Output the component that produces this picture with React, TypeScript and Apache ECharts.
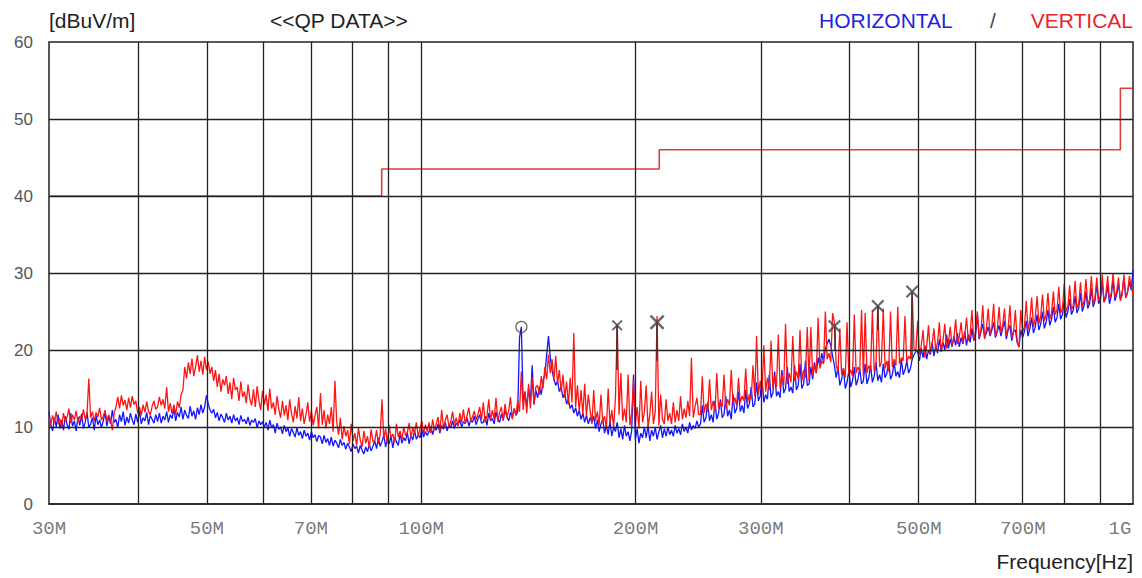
import { useEffect, useRef } from "react";
import * as echarts from "echarts";

// Receiver sweep: 600 points, log-spaced from 30 MHz to 1 GHz
const F_START = 30;
const F_STOP = 1000;

// HORIZONTAL polarisation (blue), QP data, dBuV/m
const BLUE_H: number[] = [
  12.0, 10.2, 9.5, 11.2, 10.0, 11.6, 9.8, 10.9, 9.6, 11.4, 10.3, 9.7, 11.8, 10.1, 10.8, 9.5, 11.3, 10.2, 11.7, 9.8, 10.6, 11.9, 9.9, 10.4, 11.2, 9.6, 11.5, 10.3, 10.9, 9.9,
  10.8, 11.9, 10.1, 11.4, 10.4, 12.2, 10.6, 11.0, 9.9, 11.6, 10.7, 12.0, 10.2, 11.3, 10.5, 11.8, 10.9, 10.3, 11.7, 10.6, 12.1, 10.4, 11.2, 10.8, 11.9, 10.3, 11.5, 11.0, 10.5, 11.6,
  10.7, 11.8, 10.5, 11.4, 10.9, 12.0, 10.6, 11.6, 11.1, 12.4, 10.8, 11.9, 11.3, 12.6, 11.0, 12.2, 11.5, 11.1, 12.7, 11.4, 12.1, 11.0, 12.5, 11.6, 12.9, 11.8, 12.6, 14.1, 13.0, 12.2,
  11.8, 12.3, 11.2, 11.9, 10.8, 11.7, 11.2, 10.6, 11.8, 10.9, 11.4, 10.5, 11.6, 10.8, 11.2, 10.3, 11.5, 10.7, 11.0, 10.4, 11.3, 10.2, 10.9, 10.6, 11.1, 9.9, 10.8, 10.3, 10.7, 10.0,
  10.6, 9.6, 10.9, 9.9, 10.3, 9.2, 10.5, 9.7, 10.0, 9.1, 10.2, 9.4, 9.9, 8.8, 9.8, 9.3, 8.7, 9.9, 8.9, 9.4, 8.5, 9.6, 8.8, 9.2, 8.3, 9.4, 8.6, 9.0, 8.1, 8.9,
  8.7, 7.8, 8.9, 8.0, 8.5, 7.6, 8.7, 7.5, 8.3, 7.9, 7.3, 8.4, 7.6, 8.0, 7.1, 7.9, 7.4, 6.8, 7.8, 7.2, 7.5, 6.6, 7.6, 7.0, 6.5, 7.4, 6.8, 7.7, 6.9, 7.5,
  8.2, 7.2, 8.6, 7.5, 8.1, 9.0, 7.4, 8.5, 7.8, 8.8, 7.3, 8.7, 8.1, 7.6, 9.1, 7.9, 8.6, 8.2, 9.3, 7.8, 8.9, 8.3, 9.5, 8.4, 9.0, 8.6, 9.7, 8.7, 9.4, 8.9,
  9.4, 10.1, 9.0, 9.9, 9.6, 10.4, 9.2, 10.2, 9.7, 10.6, 9.5, 10.3, 9.9, 10.8, 9.8, 10.5, 10.2, 11.0, 10.0, 10.7, 10.4, 11.2, 10.1, 10.9, 10.6, 11.4, 10.3, 11.0, 11.6, 10.5,
  10.6, 11.4, 10.2, 11.8, 10.8, 11.1, 10.4, 12.0, 11.0, 10.6, 11.7, 10.9, 12.2, 11.3, 10.8, 11.9, 11.2, 12.4, 11.5, 12.0, 21.6, 23.0, 13.4, 14.6, 12.6, 15.0, 13.2, 18.0, 12.9, 14.8,
  13.8, 15.2, 14.2, 16.0, 16.8, 19.4, 21.8, 19.0, 17.4, 16.2, 15.4, 16.0, 14.6, 15.2, 13.8, 14.4, 13.0, 13.6, 12.4, 12.9, 11.8, 12.5, 11.4, 12.2, 11.0, 11.8, 10.6, 11.5, 10.4, 11.2,
  10.6, 11.4, 9.8, 10.9, 9.4, 10.4, 11.0, 9.2, 10.2, 9.0, 10.8, 8.8, 10.0, 9.4, 10.6, 8.6, 9.8, 8.4, 10.2, 8.8, 9.4, 8.2, 9.6, 16.8, 8.4, 9.8, 7.9, 9.2, 8.6, 10.0,
  8.6, 10.2, 8.2, 9.6, 8.8, 10.0, 8.4, 9.4, 10.2, 8.6, 9.8, 8.8, 10.0, 9.0, 9.6, 8.8, 10.2, 9.2, 9.8, 9.0, 10.4, 9.4, 10.0, 9.2, 10.6, 9.6, 10.2, 9.8, 10.8, 10.0,
  10.4, 12.8, 10.6, 11.2, 13.2, 10.8, 11.6, 10.6, 13.4, 11.0, 11.8, 13.6, 11.2, 11.6, 14.0, 11.4, 12.2, 11.0, 14.2, 11.8, 12.4, 14.6, 12.0, 12.8, 11.8, 14.8, 12.4, 13.0, 15.2, 12.6,
  13.0, 15.8, 13.4, 14.0, 16.4, 13.2, 14.2, 13.6, 16.8, 13.8, 14.4, 17.2, 14.0, 14.6, 13.8, 17.4, 14.4, 15.0, 17.8, 14.6, 15.2, 14.4, 18.0, 14.8, 15.4, 18.2, 15.0, 15.6, 18.6, 15.4,
  15.6, 17.8, 16.2, 18.4, 17.0, 19.0, 17.8, 19.6, 18.4, 20.2, 20.8, 21.4, 20.6, 19.2, 18.0, 16.4, 17.8, 15.4, 16.2, 17.6, 15.0, 15.8, 17.4, 15.2, 16.0, 17.8, 15.4, 16.2, 17.6, 15.6,
  16.0, 18.2, 15.6, 16.4, 18.0, 15.8, 16.6, 18.4, 16.0, 16.8, 15.8, 18.2, 16.4, 17.0, 18.6, 16.2, 16.8, 18.4, 16.6, 17.2, 16.4, 18.8, 16.8, 17.4, 18.6, 17.0, 17.6, 18.8, 19.4, 19.8,
  19.8, 18.6, 20.2, 19.0, 20.6, 18.8, 20.0, 19.4, 21.0, 19.2, 20.6, 19.6, 21.4, 19.8, 21.0, 20.0, 22.0, 20.2, 21.4, 20.4, 21.8, 20.6, 22.2, 20.4, 21.6, 20.8, 22.4, 20.6, 22.0, 21.0,
  22.8, 21.2, 22.0, 24.6, 21.4, 22.4, 23.4, 21.6, 22.2, 23.0, 21.8, 22.6, 23.6, 21.6, 22.4, 23.2, 21.8, 22.8, 23.8, 21.4, 22.6, 23.2, 21.2, 22.4, 22.6, 21.0, 20.4, 22.6, 21.6, 22.4,
  23.8, 21.8, 22.8, 24.2, 22.2, 23.0, 24.6, 22.6, 23.4, 25.0, 22.8, 23.6, 25.2, 23.2, 24.0, 25.6, 23.6, 24.2, 26.0, 24.0, 24.6, 26.4, 24.2, 25.0, 26.6, 24.6, 25.2, 27.0, 24.8, 25.4,
  27.4, 25.0, 25.8, 27.6, 25.4, 26.0, 28.0, 25.6, 26.4, 28.6, 26.0, 26.6, 28.8, 26.2, 26.8, 28.4, 26.0, 27.0, 29.2, 26.4, 27.2, 28.6, 26.6, 27.4, 29.4, 26.8, 27.6, 28.8, 27.8, 30.4,
];

// VERTICAL polarisation (red), QP data, dBuV/m
const RED_V: number[] = [
  11.2, 10.3, 11.5, 10.6, 12.0, 10.4, 11.1, 10.0, 11.8, 10.7, 11.3, 12.4, 10.5, 11.6, 10.9, 12.1, 10.6, 11.4, 10.8, 12.3, 11.0, 11.7, 16.3, 11.2, 12.0, 10.7, 11.9, 11.3, 12.5, 10.9,
  11.4, 12.2, 10.8, 11.6, 10.9, 9.6, 11.8, 12.6, 13.9, 12.4, 14.1, 12.8, 13.5, 12.2, 13.8, 12.5, 14.0, 12.9, 13.4, 11.8, 12.6, 11.5, 12.9, 11.9, 13.3, 12.0, 11.6, 12.7, 13.4, 12.3,
  12.6, 13.9, 12.8, 13.6, 12.4, 15.2, 12.0, 13.1, 11.7, 12.9, 11.6, 13.3, 12.5, 14.2, 14.8, 17.8, 16.3, 18.4, 16.9, 18.9, 16.6, 17.8, 19.3, 17.2, 18.6, 16.8, 19.1, 17.4, 18.5, 16.9,
  17.8, 16.0, 17.4, 15.2, 16.9, 14.6, 16.2, 15.4, 16.6, 14.3, 15.8, 13.6, 16.4, 14.8, 15.2, 13.4, 15.9, 13.9, 14.6, 13.1, 15.5, 13.6, 12.8, 14.9, 12.6, 15.3, 13.4, 12.2, 14.7, 12.9,
  14.2, 12.1, 15.0, 12.4, 13.2, 11.6, 14.0, 12.3, 11.2, 13.4, 11.5, 12.8, 10.9, 13.6, 11.8, 10.6, 12.7, 11.1, 13.9, 10.8, 12.4, 10.4, 11.6, 13.2, 10.7, 12.1, 10.2, 11.5, 12.6, 9.8,
  14.4, 10.3, 12.2, 9.8, 11.6, 10.4, 12.6, 9.4, 16.0, 10.6, 9.0, 11.2, 8.4, 10.1, 8.8, 9.6, 7.8, 10.4, 8.2, 9.2, 7.6, 9.9, 8.3, 7.4, 9.5, 7.9, 8.8, 7.3, 9.7, 8.1,
  8.2, 9.6, 7.8, 9.0, 13.6, 8.4, 9.8, 7.9, 10.2, 8.6, 9.1, 8.0, 10.4, 8.7, 9.5, 8.3, 10.0, 8.9, 9.3, 10.5, 8.6, 9.9, 9.2, 10.6, 8.8, 9.7, 10.8, 9.1, 10.3, 9.4,
  10.6, 9.2, 11.0, 9.6, 10.4, 11.3, 9.4, 12.2, 9.8, 10.9, 11.6, 10.0, 10.7, 12.0, 10.3, 11.2, 10.1, 11.8, 10.6, 12.3, 10.4, 11.5, 12.5, 10.8, 11.3, 12.1, 10.9, 11.6, 12.6, 11.0,
  13.2, 10.6, 11.4, 13.6, 10.9, 12.2, 11.0, 13.8, 10.7, 11.9, 12.6, 10.8, 13.0, 11.3, 12.1, 13.9, 11.0, 12.4, 11.6, 13.4, 12.0, 17.2, 12.2, 14.6, 11.8, 15.6, 12.4, 16.4, 13.0, 15.2,
  15.4, 14.2, 16.6, 15.0, 17.8, 16.2, 19.4, 17.0, 18.8, 16.0, 19.2, 15.6, 17.4, 14.6, 16.8, 13.8, 15.9, 12.9, 16.4, 13.2, 22.2, 12.6, 15.4, 12.0, 14.8, 11.6, 15.6, 11.4, 14.2, 12.2,
  10.4, 14.8, 10.8, 12.0, 10.2, 14.2, 10.6, 11.4, 9.8, 15.0, 10.4, 12.2, 10.0, 13.8, 23.4, 11.6, 17.0, 10.8, 12.4, 10.6, 16.8, 10.2, 11.8, 16.2, 10.4, 12.6, 9.8, 16.0, 10.6, 12.0,
  15.4, 10.0, 11.6, 14.6, 10.4, 12.0, 24.4, 10.2, 14.2, 11.0, 10.4, 13.6, 10.8, 11.8, 10.4, 13.2, 10.6, 12.2, 10.8, 14.0, 11.0, 12.4, 11.2, 13.4, 11.4, 19.0, 11.2, 12.6, 13.8, 11.6,
  11.6, 16.6, 11.8, 13.0, 12.0, 16.2, 12.2, 13.4, 12.0, 17.0, 12.4, 13.2, 12.6, 16.8, 12.4, 13.6, 12.8, 17.4, 13.0, 13.8, 12.8, 16.4, 13.2, 14.0, 13.4, 17.6, 13.2, 14.2, 13.6, 18.0,
  14.0, 21.8, 14.2, 16.0, 14.4, 20.6, 14.6, 16.4, 14.8, 21.2, 15.0, 16.6, 15.2, 22.0, 15.0, 16.8, 15.4, 23.4, 15.6, 17.0, 15.8, 21.8, 16.0, 17.2, 16.2, 22.6, 16.0, 17.4, 16.4, 23.0,
  16.0, 23.0, 16.6, 18.0, 17.0, 24.2, 17.6, 18.6, 18.2, 25.0, 18.8, 19.6, 18.4, 24.8, 23.6, 18.0, 17.2, 22.8, 16.8, 17.6, 16.4, 23.6, 16.8, 17.4, 16.6, 24.6, 17.0, 17.8, 17.2, 25.2,
  16.6, 24.8, 17.0, 18.0, 17.4, 25.2, 17.2, 18.2, 25.8, 17.8, 18.4, 25.4, 17.6, 18.6, 17.2, 25.0, 17.8, 18.8, 18.0, 25.6, 18.2, 19.0, 18.6, 24.4, 18.4, 19.2, 18.8, 27.4, 20.2, 19.8,
  23.8, 19.4, 20.6, 22.6, 19.0, 20.4, 23.2, 19.6, 20.8, 22.8, 20.0, 21.0, 23.6, 19.8, 21.2, 23.4, 20.2, 21.0, 23.0, 20.6, 21.4, 24.0, 20.8, 21.6, 23.6, 21.0, 21.8, 24.2, 21.2, 22.0,
  25.2, 21.2, 22.4, 25.0, 21.6, 22.6, 25.8, 21.4, 22.8, 25.4, 22.0, 23.0, 26.0, 21.8, 22.6, 25.6, 22.2, 23.2, 25.4, 21.8, 22.8, 25.8, 21.6, 22.4, 25.2, 21.0, 20.4, 25.2, 22.4, 23.0,
  26.4, 22.6, 23.8, 26.8, 23.0, 24.2, 27.0, 23.4, 24.4, 27.2, 23.8, 24.6, 27.4, 24.0, 24.8, 27.6, 24.6, 25.2, 28.2, 24.8, 25.4, 28.6, 25.0, 25.6, 28.4, 25.2, 25.8, 29.0, 25.4, 26.0,
  28.8, 25.6, 26.4, 29.2, 25.8, 26.6, 29.6, 26.0, 26.8, 29.4, 26.4, 27.0, 29.8, 26.2, 27.2, 29.6, 26.6, 27.4, 30.0, 26.8, 27.6, 29.4, 26.4, 27.2, 29.8, 26.8, 27.4, 29.6, 28.2, 27.2,
];

// Limit line (step)
const LIMIT_FREQ = [30, 88, 88, 216, 216, 960, 960, 1000];
const LIMIT_LEVEL = [40, 40, 43.5, 43.5, 46, 46, 54, 54];

// Peak markers
const MARKER_FREQ = [138.3, 188.5, 214.5, 380.7, 438.0, 489.5];
const MARKER_LEVEL = [23.0, 23.2, 23.6, 23.1, 25.7, 27.6];
const MARKER_KIND = ["o", "x", "x", "x", "x", "x"];
const MARKER_SIZE = [11, 11, 15, 13, 13, 13];
const STEM_BASE = [null, 17.4, 18.6, 20.0, 22.6, 18.8];

// Grid and tick labels
const GRID_FREQ = [40, 50, 60, 70, 80, 90, 100, 200, 300, 400, 500, 600, 700, 800, 900];
const GRID_LEVEL = [10, 20, 30, 40, 50];
const TICK_FREQ = [30, 50, 70, 100, 200, 300, 500, 700, 1000];
const TICK_LABELS = ["30M", "50M", "70M", "100M", "200M", "300M", "500M", "700M", "1G"];

const X_PATH =
  "path://M0,1.2L1.2,0L5,3.8L8.8,0L10,1.2L6.2,5L10,8.8L8.8,10L5,6.2L1.2,10L0,8.8L3.8,5Z";

function sweep(values: number[]): number[][] {
  const n = values.length;
  return values.map((v, i) => [F_START * Math.pow(F_STOP / F_START, i / (n - 1)), v]);
}

const SANS = '"Liberation Sans", Arial, sans-serif';
const MONO = '"Courier New", "Liberation Mono", monospace';

export default function App() {
  const ref = useRef<HTMLDivElement>(null);

  useEffect(() => {
    if (!ref.current) return;
    const chart = echarts.init(ref.current, null, { renderer: "svg" });

    const option: any = {
      animation: false,
      backgroundColor: "#ffffff",
      textStyle: { fontFamily: SANS },
      grid: {
        left: 49,
        right: 9,
        top: 42,
        bottom: 74,
        show: true,
        borderColor: "#222222",
        borderWidth: 1.5,
      },
      xAxis: {
        type: "log",
        logBase: 10,
        min: F_START,
        max: F_STOP,
        axisLine: { show: true, lineStyle: { color: "#222222", width: 1.5 } },
        axisTick: { show: false },
        axisLabel: { show: false },
        splitLine: { show: false },
        minorSplitLine: { show: false },
      },
      yAxis: {
        type: "value",
        min: 0,
        max: 60,
        interval: 10,
        axisLine: { show: false },
        axisTick: { show: false },
        splitLine: { show: false },
        axisLabel: { color: "#555555", fontSize: 17, fontFamily: SANS, margin: 16 },
      },
      graphic: [
        { type: "text", x: 49, y: 20, style: { text: "[dBuV/m]", fontSize: 21, fontFamily: SANS, fill: "#222222", align: "left", verticalAlign: "middle" } },
        { type: "text", x: 270, y: 20, style: { text: "<<QP DATA>>", fontSize: 21, fontFamily: SANS, fill: "#222222", align: "left", verticalAlign: "middle" } },
        { type: "text", x: 819, y: 20, style: { text: "HORIZONTAL", fontSize: 21, fontFamily: SANS, fill: "#2424d8", align: "left", verticalAlign: "middle" } },
        { type: "text", x: 993, y: 20, style: { text: "/", fontSize: 21, fontFamily: SANS, fill: "#444444", align: "center", verticalAlign: "middle" } },
        { type: "text", x: 1133, y: 20, style: { text: "VERTICAL", fontSize: 21, fontFamily: SANS, fill: "#e5262b", align: "right", verticalAlign: "middle" } },
        { type: "text", x: 1133, y: 561, style: { text: "Frequency[Hz]", fontSize: 21, fontFamily: SANS, fill: "#222222", align: "right", verticalAlign: "middle" } },
      ],
      series: [
        {
          name: "HORIZONTAL",
          type: "line",
          data: sweep(BLUE_H),
          symbol: "none",
          showSymbol: false,
          lineStyle: { color: "#1414ff", width: 1.3 },
          z: 2,
          silent: true,
        },
        {
          name: "VERTICAL",
          type: "line",
          data: sweep(RED_V),
          symbol: "none",
          showSymbol: false,
          lineStyle: { color: "#ff1414", width: 1.3 },
          z: 3,
          silent: true,
        },
        {
          name: "Limit",
          type: "line",
          data: LIMIT_FREQ.map((f, i) => [f, LIMIT_LEVEL[i]]),
          symbol: "none",
          showSymbol: false,
          lineStyle: { color: "#e03c3c", width: 1.6 },
          z: 4,
          silent: true,
        },
        {
          name: "grid",
          type: "line",
          data: [[F_START, 0]],
          symbol: "none",
          lineStyle: { opacity: 0 },
          z: 5,
          silent: true,
          markLine: {
            silent: true,
            symbol: ["none", "none"],
            label: { show: false },
            lineStyle: { color: "#222222", width: 1.3, type: "solid" },
            data: [
              ...GRID_FREQ.map((f) => ({ xAxis: f })),
              ...GRID_LEVEL.map((v) => ({ yAxis: v })),
            ],
          },
        },
        {
          name: "markers",
          type: "scatter",
          z: 6,
          silent: true,
          data: MARKER_FREQ.map((f, i) =>
            MARKER_KIND[i] === "o"
              ? {
                  value: [f, MARKER_LEVEL[i]],
                  symbol: "circle",
                  symbolSize: MARKER_SIZE[i],
                  itemStyle: { color: "rgba(0,0,0,0)", borderColor: "#444444", borderWidth: 1.2 },
                }
              : {
                  value: [f, MARKER_LEVEL[i]],
                  symbol: X_PATH,
                  symbolSize: MARKER_SIZE[i],
                  itemStyle: { color: "#444444" },
                }
          ),
          markLine: {
            silent: true,
            symbol: ["none", "none"],
            label: { show: false },
            lineStyle: { color: "#333333", width: 1.5, type: "solid" },
            data: MARKER_FREQ.map((f, i) => ({ f, i }))
              .filter((d) => STEM_BASE[d.i] !== null)
              .map((d) => [
                { coord: [d.f, STEM_BASE[d.i]] },
                { coord: [d.f, MARKER_LEVEL[d.i]] },
              ]),
          },
        },
        {
          name: "xticks",
          type: "scatter",
          z: 6,
          silent: true,
          symbolSize: 0,
          data: TICK_FREQ.map((f, i) =>
            i === TICK_FREQ.length - 1
              ? { value: [f, 0], label: { offset: [-13, 0] } }
              : { value: [f, 0] }
          ),
          label: {
            show: true,
            position: "bottom",
            distance: 15,
            formatter: (p: any) => TICK_LABELS[p.dataIndex],
            fontFamily: MONO,
            fontSize: 19,
            color: "#555555",
          },
        },
      ],
    };

    chart.setOption(option);
    return () => {
      chart.dispose();
    };
  }, []);

  return (
    <div
      ref={ref}
      style={{ position: "absolute", left: 0, top: 0, width: 1142, height: 578, background: "#ffffff" }}
    />
  );
}
